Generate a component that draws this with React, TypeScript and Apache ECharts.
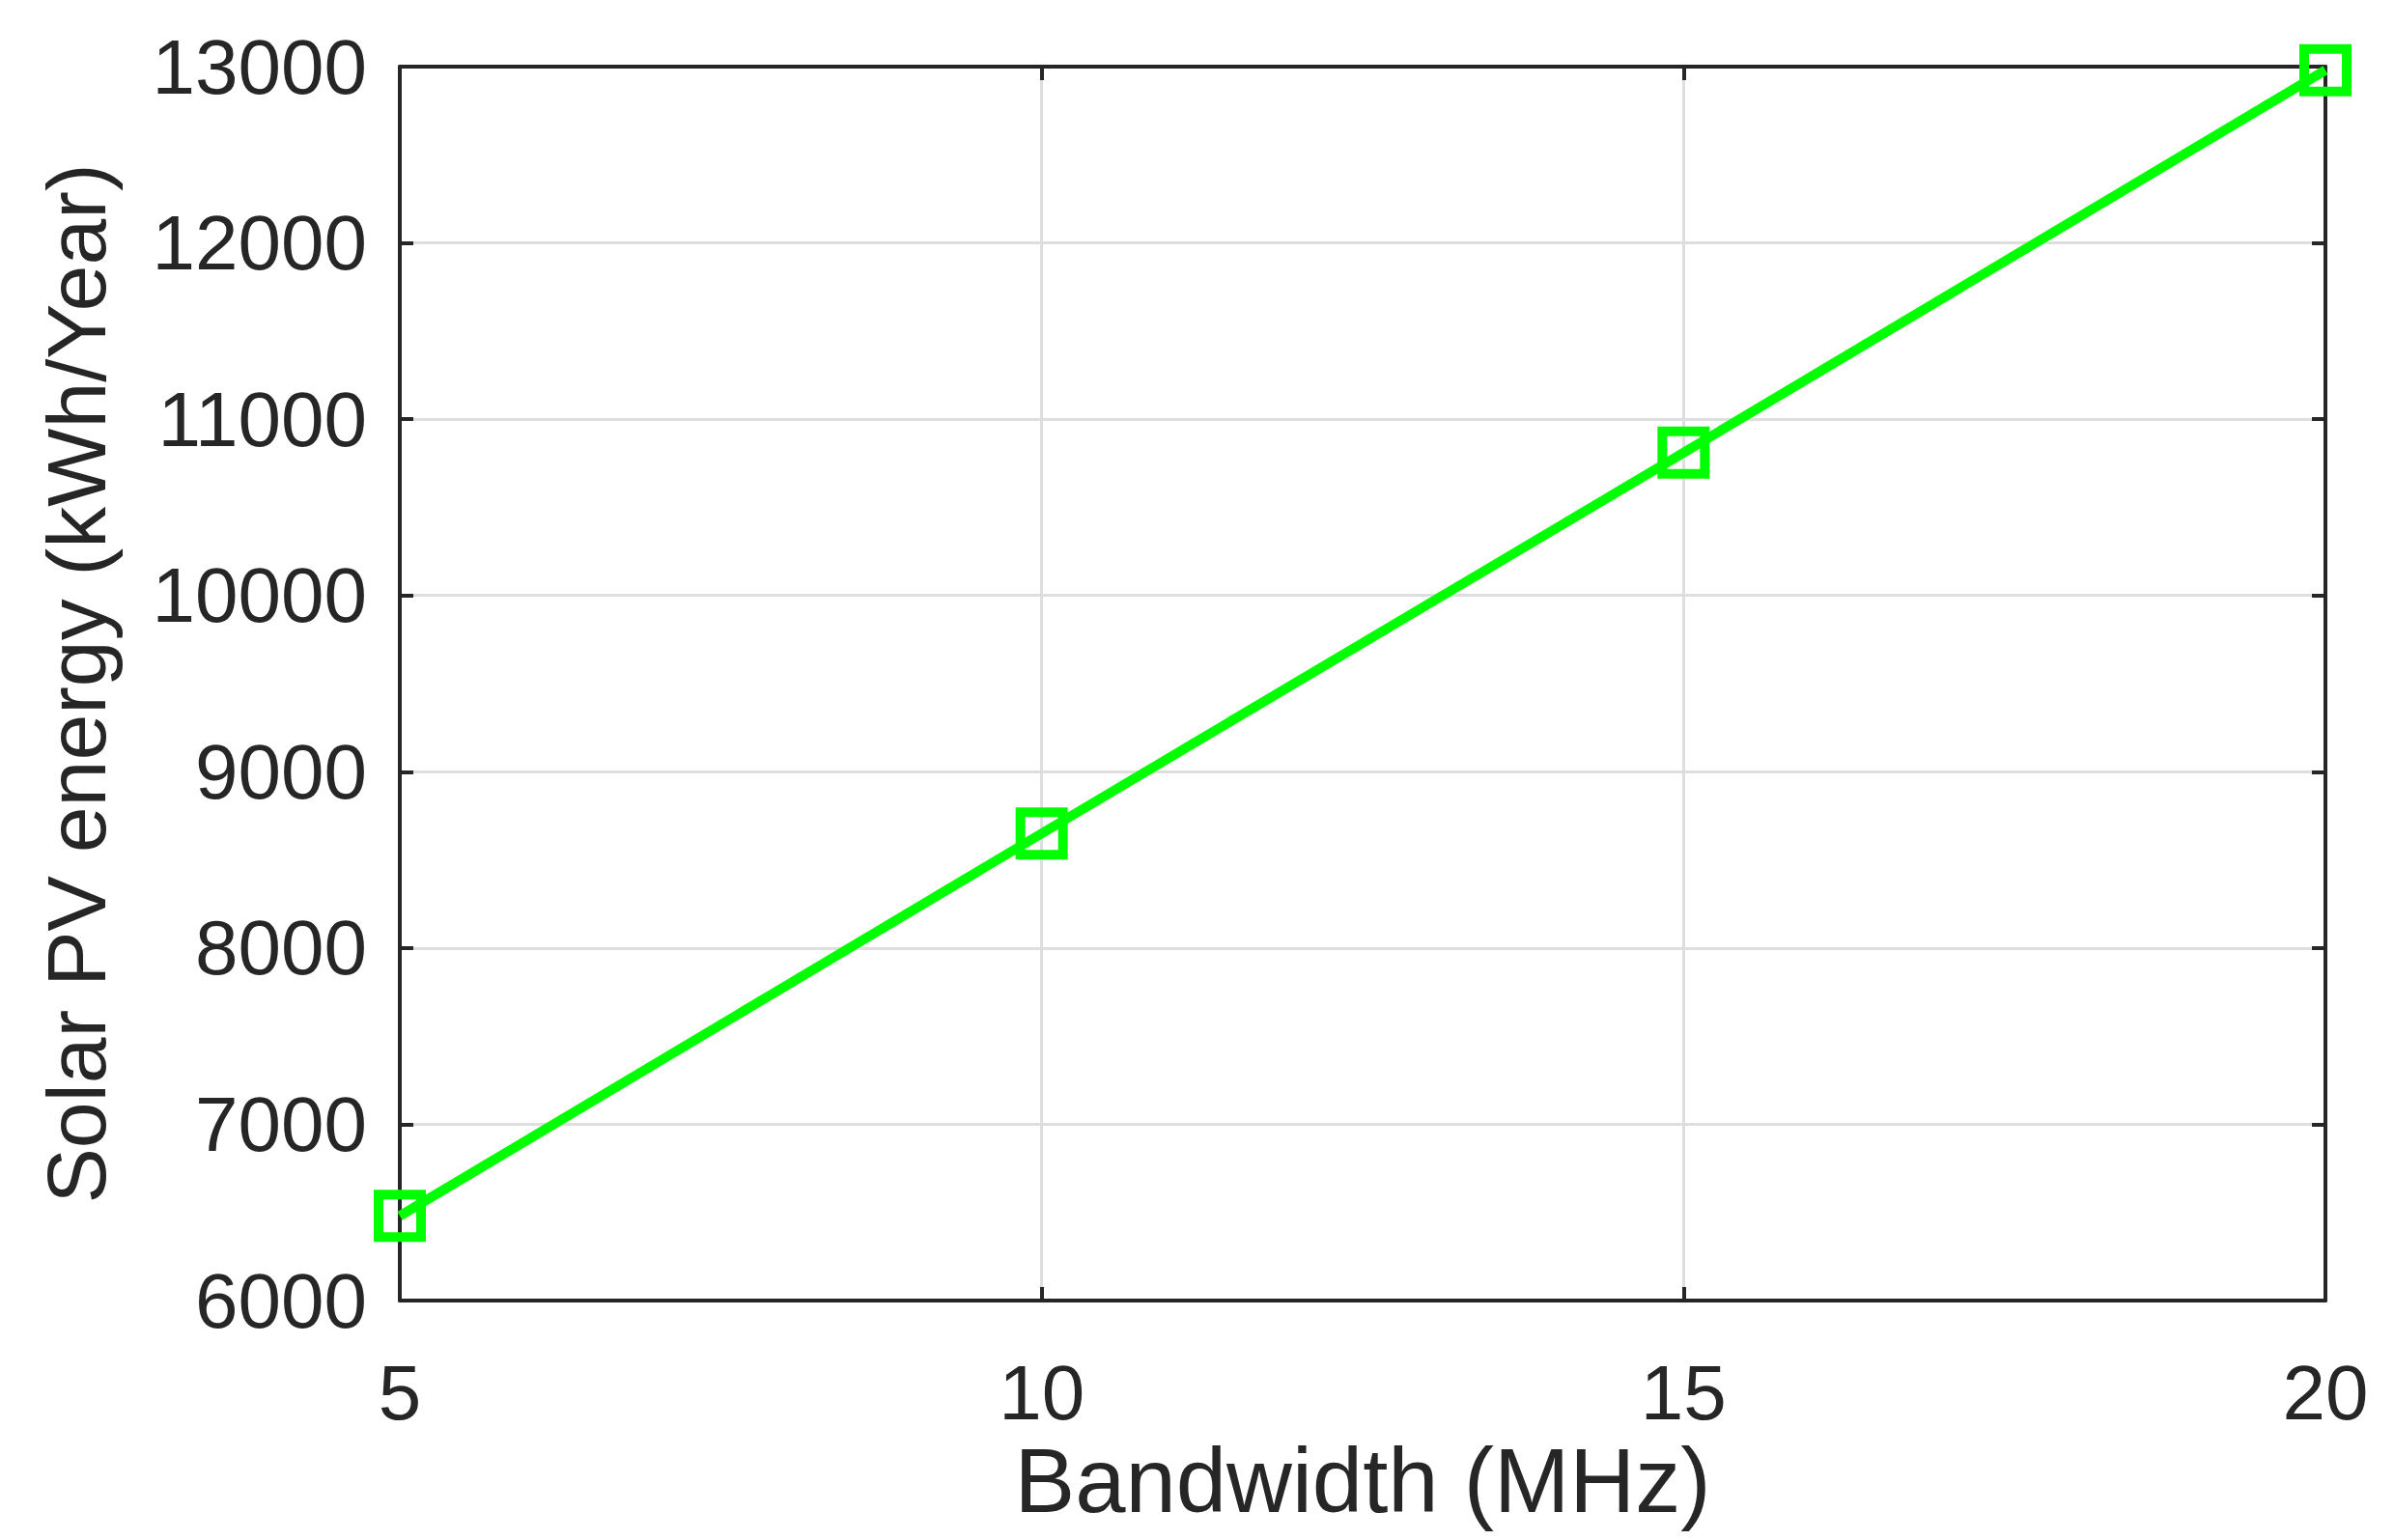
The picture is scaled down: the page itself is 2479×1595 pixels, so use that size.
import React, { useEffect, useRef } from "react";
import * as echarts from "echarts";

const bandwidth = [5, 10, 15, 20];
const energy = [6480, 8650, 10810, 12980];
const xTicks = [5, 10, 15, 20];
const yTicks = [6000, 7000, 8000, 9000, 10000, 11000, 12000, 13000];
const xName = "Bandwidth (MHz)";
const yName = "Solar PV energy (kWh/Year)";

const TEXT = "#262626";
const FONT = "'Liberation Sans', Arial, sans-serif";

export default function App() {
  const ref = useRef<HTMLDivElement>(null);
  useEffect(() => {
    document.body.style.margin = "0";
    const chart = echarts.init(ref.current!, null, { renderer: "svg" });
    const axisLine = { show: true, lineStyle: { color: TEXT, width: 4 } };
    const tick = { show: true, inside: true, length: 14, lineStyle: { color: TEXT, width: 4 } };
    const plain = (v: number) => String(v);
    chart.setOption({
      animation: false,
      backgroundColor: "#ffffff",
      grid: { left: 414, right: 71, top: 69, bottom: 248, containLabel: false },
      xAxis: [
        {
          type: "value",
          min: xTicks[0],
          max: xTicks[xTicks.length - 1],
          interval: 5,
          name: xName,
          nameLocation: "middle",
          nameGap: 126,
          nameTextStyle: { color: TEXT, fontSize: 94, fontFamily: FONT },
          axisLine,
          axisTick: tick,
          axisLabel: { color: TEXT, fontSize: 80, fontFamily: FONT, margin: 55, formatter: plain },
          splitLine: { show: true, lineStyle: { color: "#dedede", width: 3 } },
        },
        {
          type: "value",
          position: "top",
          min: xTicks[0],
          max: xTicks[xTicks.length - 1],
          interval: 5,
          axisLine,
          axisTick: tick,
          axisLabel: { show: false },
          splitLine: { show: false },
        },
      ],
      yAxis: [
        {
          type: "value",
          min: yTicks[0],
          max: yTicks[yTicks.length - 1],
          interval: 1000,
          name: yName,
          nameLocation: "middle",
          nameGap: 292,
          nameTextStyle: { color: TEXT, fontSize: 86, fontFamily: FONT },
          axisLine,
          axisTick: tick,
          axisLabel: { color: TEXT, fontSize: 80, fontFamily: FONT, margin: 34, formatter: plain },
          splitLine: { show: true, lineStyle: { color: "#dedede", width: 3 } },
        },
        {
          type: "value",
          position: "right",
          min: yTicks[0],
          max: yTicks[yTicks.length - 1],
          interval: 1000,
          axisLine,
          axisTick: tick,
          axisLabel: { show: false },
          splitLine: { show: false },
        },
      ],
      series: [
        {
          type: "line",
          data: bandwidth.map((b, i) => [b, energy[i]]),
          symbol: "rect",
          symbolSize: 44,
          showAllSymbol: true,
          clip: false,
          lineStyle: { color: "#00ff00", width: 10 },
          itemStyle: { color: "rgba(0,0,0,0)", borderColor: "#00ff00", borderWidth: 10 },
          z: 10,
        },
      ],
    });
    return () => chart.dispose();
  }, []);
  return <div ref={ref} style={{ width: 2479, height: 1595 }} />;
}
